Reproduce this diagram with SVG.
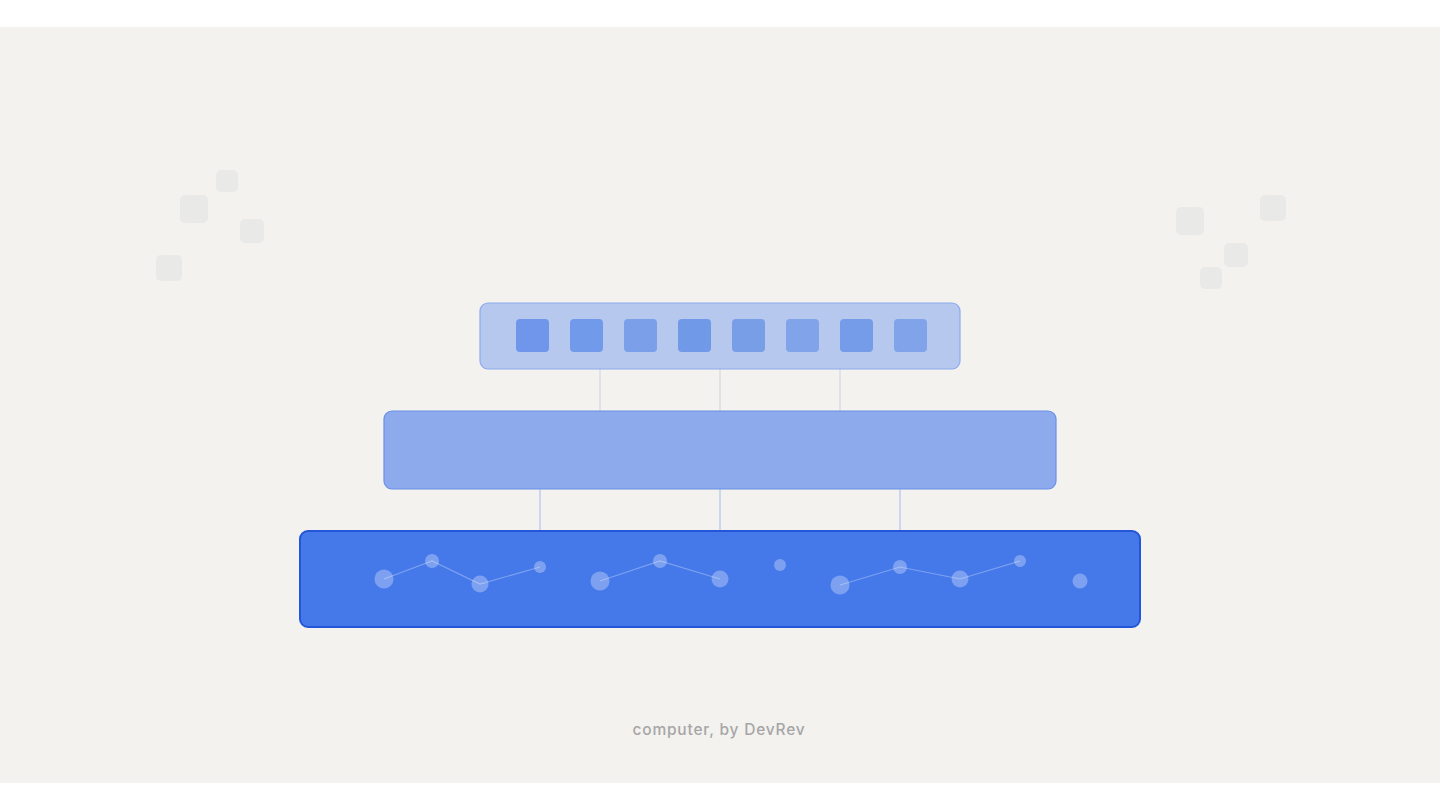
<svg xmlns="http://www.w3.org/2000/svg" width="1440" height="810" viewBox="0 0 1440 810">
<style>
.deco{fill:#e9e9e8}
.conn-top{stroke:#d6d7de;stroke-width:1.2}
.conn-bot{stroke:#b3c5ef;stroke-width:1.2}
.dot{fill:#ffffff;fill-opacity:0.3}
.link{stroke:#ffffff;stroke-opacity:0.3;stroke-width:1.2;fill:none}
.caption{font-family:Inter,"Liberation Sans",sans-serif;font-size:15.5px;font-weight:500;fill:#a6a6a6;letter-spacing:0.8px}
</style>
<rect x="0" y="0" width="1440" height="810" fill="#ffffff"/>
<rect x="0" y="27" width="1440" height="756" fill="#f3f2ef"/>
<g id="deco-left">
<rect class="deco" x="216" y="170" width="22" height="22" rx="5"/>
<rect class="deco" x="180" y="195" width="28" height="28" rx="5"/>
<rect class="deco" x="240" y="219" width="24" height="24" rx="5"/>
<rect class="deco" x="156" y="255" width="26" height="26" rx="5"/>
</g>
<g id="deco-right">
<rect class="deco" x="1176" y="207" width="28" height="28" rx="5"/>
<rect class="deco" x="1260" y="195" width="26" height="26" rx="5"/>
<rect class="deco" x="1224" y="243" width="24" height="24" rx="5"/>
<rect class="deco" x="1200" y="267" width="22" height="22" rx="5"/>
</g>
<g id="connectors">
<line class="conn-top" x1="600" y1="369" x2="600" y2="411"/>
<line class="conn-top" x1="720" y1="369" x2="720" y2="411"/>
<line class="conn-top" x1="840" y1="369" x2="840" y2="411"/>
<line class="conn-bot" x1="540" y1="489" x2="540" y2="531"/>
<line class="conn-bot" x1="720" y1="489" x2="720" y2="531"/>
<line class="conn-bot" x1="900" y1="489" x2="900" y2="531"/>
</g>
<g id="top-layer">
<rect x="480" y="303" width="480" height="66" rx="8" fill="#b6c8ee" stroke="#8eaaee" stroke-width="1.2"/>
<rect x="516" y="319" width="33" height="33" rx="4" fill="#6f96ea"/>
<rect x="570" y="319" width="33" height="33" rx="4" fill="#729aea"/>
<rect x="624" y="319" width="33" height="33" rx="4" fill="#7c9fea"/>
<rect x="678" y="319" width="33" height="33" rx="4" fill="#7099e8"/>
<rect x="732" y="319" width="33" height="33" rx="4" fill="#789ee8"/>
<rect x="786" y="319" width="33" height="33" rx="4" fill="#80a3ea"/>
<rect x="840" y="319" width="33" height="33" rx="4" fill="#759ce8"/>
<rect x="894" y="319" width="33" height="33" rx="4" fill="#80a3ea"/>
</g>
<g id="middle-layer">
<rect x="384" y="411" width="672" height="78" rx="8" fill="#8dabec" stroke="#6890e8" stroke-width="1.2"/>
</g>
<g id="bottom-layer">
<rect x="300" y="531" width="840" height="96" rx="8" fill="#4579ea" stroke="#2356d8" stroke-width="2"/>
<polyline class="link" points="384,579 432,561 480,584 540,567"/>
<polyline class="link" points="600,581 660,561 720,579"/>
<polyline class="link" points="840,585 900,567 960,579 1020,561"/>
<circle class="dot" cx="384" cy="579" r="9.5"/>
<circle class="dot" cx="432" cy="561" r="7"/>
<circle class="dot" cx="480" cy="584" r="8.5"/>
<circle class="dot" cx="540" cy="567" r="6"/>
<circle class="dot" cx="600" cy="581" r="9.5"/>
<circle class="dot" cx="660" cy="561" r="7"/>
<circle class="dot" cx="720" cy="579" r="8.5"/>
<circle class="dot" cx="780" cy="565" r="6"/>
<circle class="dot" cx="840" cy="585" r="9.5"/>
<circle class="dot" cx="900" cy="567" r="7"/>
<circle class="dot" cx="960" cy="579" r="8.5"/>
<circle class="dot" cx="1020" cy="561" r="6"/>
<circle class="dot" cx="1080" cy="581" r="7.5"/>
</g>
<text class="caption" x="719" y="735" text-anchor="middle">computer, by DevRev</text>
</svg>
